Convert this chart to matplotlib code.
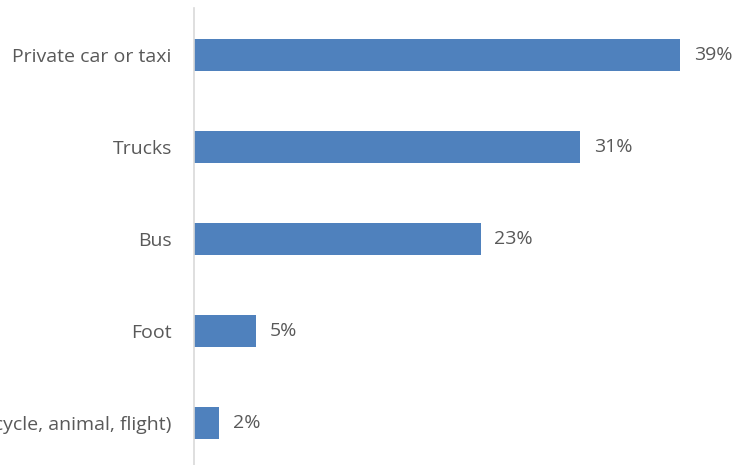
import matplotlib.pyplot as plt

modes = ["Private car or taxi", "Trucks", "Bus", "Foot",
         "Other (bicycle, animal, flight)"]
shares = [39, 31, 23, 5, 2]

bar_color = "#4f81bd"
text_color = "#595959"

plt.rcParams["font.family"] = ["Open Sans", "DejaVu Sans"]

fig = plt.figure(figsize=(7.38, 4.65), dpi=100)
ax = fig.add_axes([0.263, 0.0, 0.707, 0.983])

pos = list(range(len(modes)))
ax.barh(pos, shares, height=0.35, color=bar_color)

for y, v in zip(pos, shares):
    ax.annotate(f"{v}%", (v, y), xytext=(10, 0), textcoords="offset points",
                va="center", ha="left", fontsize=14, color=text_color)

ax.set_xlim(0, 41.9)
ax.set_ylim(4.457, -0.51)
ax.set_yticks(pos)
ax.set_yticklabels(modes, fontsize=14, color=text_color)
ax.tick_params(axis="y", length=0, pad=16)
ax.set_xticks([])

for side in ["top", "right", "bottom"]:
    ax.spines[side].set_visible(False)
ax.spines["left"].set_color("#d9d9d9")
ax.spines["left"].set_linewidth(1.2)

fig.savefig("out.png", dpi=100)
